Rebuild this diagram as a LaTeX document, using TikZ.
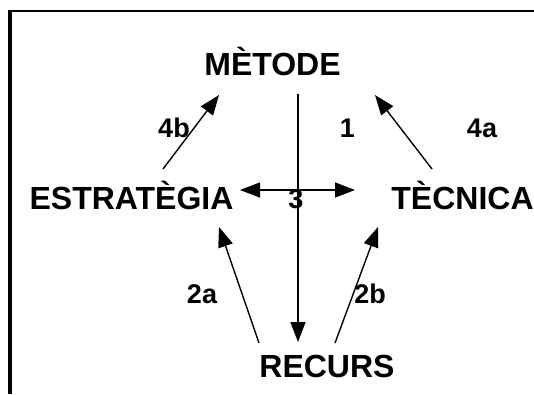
\documentclass[tikz,border=0pt]{standalone}
\usepackage{fontspec}
\setmainfont{Liberation Sans}
\usetikzlibrary{arrows.meta}
\begin{document}
\begin{tikzpicture}[x=1pt,y=-1pt,
  concept/.style={anchor=base,inner sep=0pt,font=\fontsize{32}{32}\selectfont\bfseries},
  num/.style={anchor=base,inner sep=0pt,font=\fontsize{27}{27}\selectfont\bfseries},
  arr/.style={line width=1.4pt,-{Triangle[length=20pt,width=15pt]}},
  frameline/.style={line width=3pt}]
\useasboundingbox (0,0) rectangle (534,394);
% open frame: top and left edges only
\draw[frameline,line width=2.5pt] (8,11) -- (534,11);
\draw[frameline,line width=3.5pt] (10,10) -- (10,394);

% concepts
\node[concept] (met) at (272.5,75) {MÈTODE};
\node[concept] (est) at (131.5,209) {ESTRATÈGIA};
\node[concept] (tec) at (462.5,209) {TÈCNICA};
\node[concept] (rec) at (327,377) {RECURS};

% connector ends around the concepts
\coordinate (met-sw) at (219,95);
\coordinate (met-s)  at (298,94);
\coordinate (met-se) at (375,95);
\coordinate (est-ne) at (163,169);
\coordinate (est-e)  at (240,190);
\coordinate (est-se) at (219,227);
\coordinate (tec-nw) at (432,169);
\coordinate (tec-w)  at (355,190);
\coordinate (tec-sw) at (378,227);
\coordinate (rec-nw) at (259,343);
\coordinate (rec-n)  at (298,342);
\coordinate (rec-ne) at (335,343);
\coordinate (mid)    at (298,190);

% connectors
\draw[arr] (met-s) -- (rec-n);
\draw[arr] (mid) -- (est-e);
\draw[arr] (mid) -- (tec-w);
\draw[arr] (est-ne) -- (met-sw);
\draw[arr] (tec-nw) -- (met-se);
\draw[arr] (rec-nw) -- (est-se);
\draw[arr] (rec-ne) -- (tec-sw);

% step labels
\node[num] (l4b) at (174,137) {4b};
\node[num] (l1)  at (347.5,137) {1};
\node[num] (l4a) at (482,137) {4a};
\node[num] (l3)  at (296,208) {3};
\node[num] (l2a) at (202,303) {2a};
\node[num] (l2b) at (370,303) {2b};
\end{tikzpicture}
\end{document}
